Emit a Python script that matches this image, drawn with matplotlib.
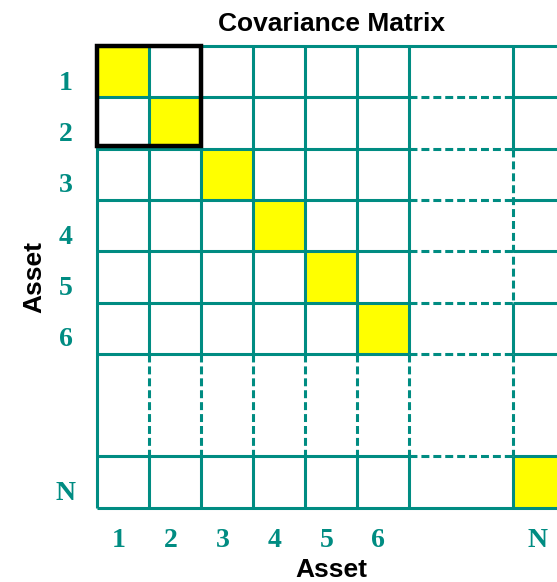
import matplotlib
matplotlib.use("Agg")
import matplotlib.pyplot as plt
from matplotlib.patches import Rectangle

# ---- data ----
asset_labels = ['1', '2', '3', '4', '5', '6', 'N']
n_shown = 6          # consecutive assets before the ellipsis gap
gap_cells = 2        # width of the "..." gap in cells
title = 'Covariance Matrix'
xlabel = 'Asset'
ylabel = 'Asset'

TEAL = '#008C82'
YELLOW = '#FFFF00'

# positions of each asset along the axes (cell units)
pos = list(range(n_shown)) + [n_shown + gap_cells + i for i in range(len(asset_labels) - n_shown)]
last = pos[-1] + 1   # outer edge
g0, g1 = n_shown, n_shown + gap_cells

fig = plt.figure(figsize=(5.57, 5.82), dpi=100)
ax = fig.add_axes([0, 0, 1, 1])
cw, ch = 52.0, 51.3
ax.set_xlim(-97 / cw, (557 - 97) / cw)
ax.set_ylim((582 - 46) / ch, -46 / ch)
ax.axis('off')

# diagonal (variance) cells
for p in pos:
    ax.add_patch(Rectangle((p, p), 1, 1, facecolor=YELLOW, edgecolor='none', zorder=1))

lw = 2.2
dash = (0, (2.6, 1.3))

def seg(x0, y0, x1, y1, dashed=False):
    ax.plot([x0, x1], [y0, y1], color=TEAL, lw=lw,
            linestyle=dash if dashed else '-', solid_capstyle='butt',
            dash_capstyle='butt', zorder=2, clip_on=False)

# horizontal grid lines
h_edges = list(range(0, n_shown + 1)) + [g1, last]
for y in h_edges:
    if y in (0, last):
        seg(0, y, last, y)
    else:
        seg(0, y, g0, y)
        seg(g0, y, g1, y, dashed=True)
        seg(g1, y, last, y)

# vertical grid lines
v_edges = list(range(0, n_shown + 1)) + [g1, last]
for x in v_edges:
    if x == 0:
        seg(x, 0, x, last)
    elif x == g1:
        seg(x, 0, x, 2)
        seg(x, 2, x, 5, dashed=True)
        seg(x, 5, x, g0)
        seg(x, g0, x, g1, dashed=True)
        seg(x, g1, x, last)
    else:
        seg(x, 0, x, g0)
        seg(x, g0, x, g1, dashed=True)
        seg(x, g1, x, last)

# highlighted 2x2 block
ax.add_patch(Rectangle((0, 0), 2, 1.95, facecolor='none', edgecolor='black',
                       lw=3.2, zorder=3, joinstyle='miter'))

# labels
serif = dict(family='Liberation Serif', weight='bold', color=TEAL, fontsize=20)
for lab, p in zip(asset_labels, pos):
    ax.text(-0.6, p + 0.67, lab, ha='center', va='center_baseline', **serif)
    dx = -0.09 if lab.isdigit() else -0.02
    ax.text(p + 0.5 + dx, 9.59, lab, ha='center', va='center_baseline', **serif)

sans = dict(family='Liberation Sans', weight='bold', color='black', fontsize=19)
ax.text(4.5, -0.43, title, ha='center', va='center', **sans)
ax.text(4.5, 10.21, xlabel, ha='center', va='center', **sans)
ax.text(-1.2, 4.5, ylabel, ha='center', va='center', rotation=90, **sans)

fig.savefig('out.png', dpi=100)
